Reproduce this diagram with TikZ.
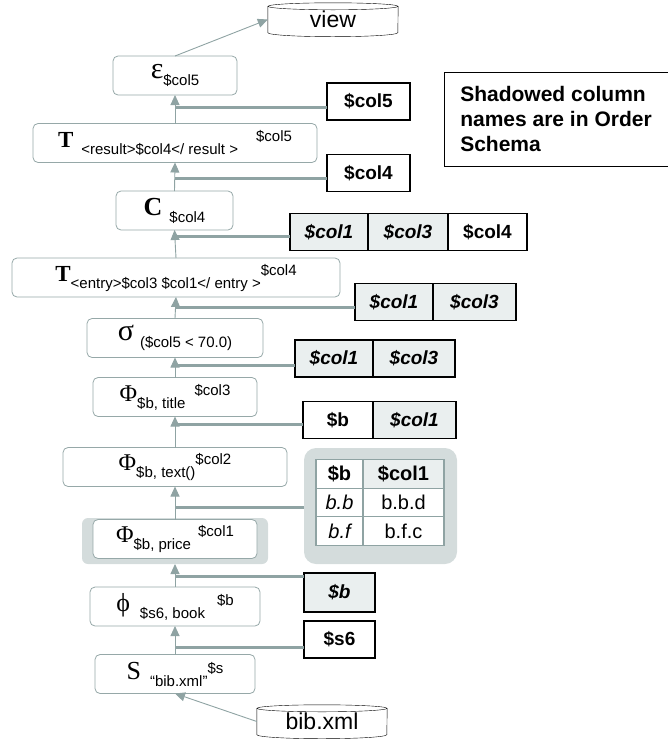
\documentclass[tikz,border=0pt]{standalone}
\usepackage{fontspec}
\setmainfont{Liberation Sans}
\newfontfamily\serif{Liberation Serif}
\usetikzlibrary{positioning,arrows.meta}
\definecolor{edgegray}{RGB}{143,163,163}
\definecolor{opline}{RGB}{150,168,168}
\definecolor{shadebg}{RGB}{212,220,220}
\definecolor{cellbg}{RGB}{234,239,239}
\newcommand\sym[2][23]{{\fontsize{#1}{#1}\selectfont\serif #2}}
\newcommand\lo[1]{\raisebox{-7pt}{\fontsize{15}{15}\selectfont #1}}
\newcommand\hi[1]{\raisebox{6pt}{\fontsize{15}{15}\selectfont #1}}
\newcommand\drum[2]{\draw (#1.north west) -- (#1.south west) arc[start angle=180,end angle=360,x radius=#2pt,y radius=4pt] -- (#1.north east);
  \draw (#1.north) ellipse[x radius=#2pt,y radius=3.5pt];}

\begin{document}
\begin{tikzpicture}[x=1pt,y=-1pt,
  op/.style={draw=opline,line width=0.8pt,rounded corners=5pt,fill=white,minimum height=39pt,inner sep=0pt,outer sep=0pt},
  sch/.style={draw,line width=1.3pt,fill=white,font=\fontsize{19}{19}\selectfont\bfseries,minimum height=37pt,inner sep=0pt,outer sep=0pt},
  sh/.style={sch,fill=cellbg,font=\fontsize{19}{19}\selectfont\bfseries\itshape},
  cell/.style={draw=edgegray,line width=1.2pt,fill=white,font=\fontsize{20}{20}\selectfont,minimum height=28.5pt,inner sep=0pt,outer sep=0pt},
  store/.style={inner sep=0pt,minimum width=130pt,minimum height=26pt,font=\fontsize{23}{23}\selectfont},
  flow/.style={edgegray,line width=0.9pt,-{Triangle[length=10pt,width=9pt]}},
  feed/.style={edgegray,line width=3pt}]
\useasboundingbox (0,0) rectangle (668,745);

\node[store] (view) at (333,19.5) {view};
\drum{view}{65}
\node[store] (bib) at (322,721.5) {bib.xml};
\drum{bib}{65}

\node[op,minimum width=124pt] (eps) at (175,75.5) {\sym[30]{ε}\lo{\$col5}};
\node[op,minimum width=284pt] (tres) at (175,143) {\sym{\bfseries T}\hspace{8pt}\lo{<result>\$col4</ result >}\hspace{18pt}\hi{\$col5}};
\node[op,minimum width=117pt] (cnode) at (174.5,210.5) {\sym[26]{\bfseries C}\hspace{7pt}\lo{\$col4}};
\node[op,minimum width=328pt] (tent) at (176,277.5) {\sym{\bfseries T}\lo{<entry>\$col3 \$col1</ entry >}\hi{\$col4}};
\node[op,minimum width=176pt] (sel) at (175,338) {\sym[30]{σ}\hspace{6pt}\lo{(\$col5 < 70.0)}};
\node[op,minimum width=164pt] (ptitle) at (175,397) {\sym[24]{Φ}\lo{\$b, title}\hspace{9pt}\hi{\$col3}};
\node[op,minimum width=224pt] (ptext) at (175,467) {\sym[24]{Φ}\lo{\$b, text()}\hi{\$col2}};
\node[fill=shadebg,rounded corners=6pt,minimum width=186pt,minimum height=46pt,inner sep=0pt,outer sep=0pt] (pricebg) at (175,541) {};
\node[op,minimum width=164pt] (price) at (175,539) {\sym[24]{Φ}\lo{\$b, price}\hspace{7pt}\hi{\$col1}};
\node[op,minimum width=170pt] (book) at (175,606.5) {\sym[26]{ϕ}\hspace{10pt}\lo{\$s6, book}\hspace{12pt}\hi{\$b}};
\node[op,minimum width=160pt] (scan) at (175,674) {\sym[26]{S}\hspace{9pt}\lo{“bib.xml”}\hi{\$s}};

\node[sch,minimum width=83pt] (c5) at (368.5,101.5) {\$col5};
\node[sch,minimum width=83pt] (c4) at (368.5,173) {\$col4};
\node[sh,minimum width=78pt] (t1) at (329,232) {\$col1};
\node[sh,minimum width=80pt,right=0pt of t1] (t3) {\$col3};
\node[sch,minimum width=79pt,right=0pt of t3] (t4) {\$col4};
\node[sh,minimum width=78pt] (e1) at (394,302) {\$col1};
\node[sh,minimum width=83pt,right=0pt of e1] (e3) {\$col3};
\node[sh,minimum width=78pt] (s1) at (334,358.5) {\$col1};
\node[sh,minimum width=82pt,right=0pt of s1] (s3) {\$col3};
\node[sch,minimum width=70pt] (tb) at (338,420) {\$b};
\node[sh,minimum width=83pt,right=0pt of tb] (tc) {\$col1};

\node[fill=shadebg,rounded corners=12pt,minimum width=153pt,minimum height=116pt,inner sep=0pt,outer sep=0pt] (tabbg) at (380.5,506) {};
\node[cell,minimum width=47pt,font=\fontsize{20}{20}\selectfont\bfseries] (h1) at (339.5,474) {\$b};
\node[cell,minimum width=81pt,fill=cellbg,font=\fontsize{20}{20}\selectfont\bfseries,right=0pt of h1] (h2) {\$col1};
\node[cell,minimum width=47pt,font=\fontsize{20}{20}\selectfont\itshape,below=0pt of h1] (r1) {b.b};
\node[cell,minimum width=81pt,right=0pt of r1] (r2) {b.b.d};
\node[cell,minimum width=47pt,font=\fontsize{20}{20}\selectfont\itshape,below=0pt of r1] (q1) {b.f};
\node[cell,minimum width=81pt,right=0pt of q1] (q2) {b.f.c};

\node[sh,minimum width=71pt,minimum height=39pt] (pb) at (339.5,592.5) {\$b};
\node[sch,minimum width=71pt] (ps6) at (339.5,639.5) {\$s6};

\node[draw,line width=1pt,minimum width=224pt,minimum height=94pt,align=left,font=\fontsize{21}{25}\selectfont\bfseries] (note) at (556,119) {Shadowed column\\names are in Order\\Schema};

\coordinate (j1) at (175,107);
\coordinate (j2) at (175,178);
\coordinate (j3) at (175,236);
\coordinate (j4) at (175,307);
\coordinate (j5) at (175,365);
\coordinate (j6) at (175,424);
\coordinate (j7) at (175,507);
\coordinate (j8) at (175,576);
\coordinate (j9) at (175,647);
\draw[feed] (c5.west |- j1) -- (j1);
\draw[feed] (c4.west |- j2) -- (j2);
\draw[feed] (t1.west |- j3) -- (j3);
\draw[feed] (e1.west |- j4) -- (j4);
\draw[feed] (s1.west |- j5) -- (j5);
\draw[feed] (tb.west |- j6) -- (j6);
\draw[feed] (tabbg.west |- j7) -- (j7);
\draw[feed] (pb.west |- j8) -- (j8);
\draw[feed] (ps6.west |- j9) -- (j9);

\draw[flow] (eps.north) -- (view.west);
\draw[flow] (tres.north) -- (eps.south);
\draw[flow] (cnode.north) -- (tres.south);
\draw[flow] (tent.north) -- (cnode.south);
\draw[flow] (sel.north) -- (tent.south);
\draw[flow] (ptitle.north) -- (sel.south);
\draw[flow] (ptext.north) -- (ptitle.south);
\draw[flow] (price.north) -- (ptext.south);
\draw[flow] (book.north) -- (pricebg.south);
\draw[flow] (scan.north) -- (book.south);
\draw[flow] (bib.west) -- (scan.south);
\end{tikzpicture}
\end{document}
